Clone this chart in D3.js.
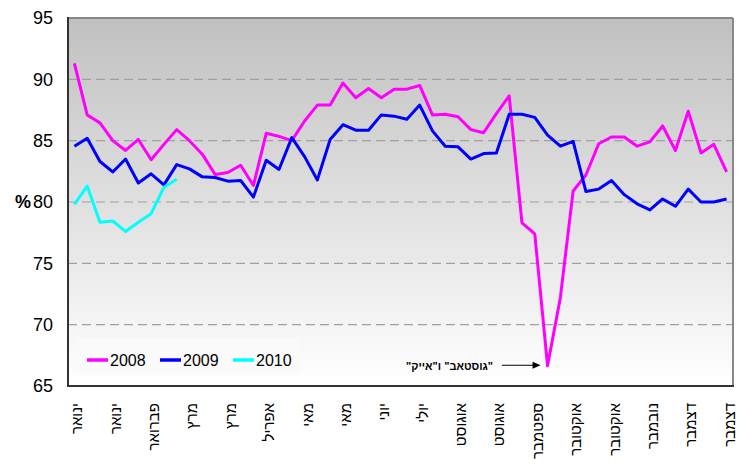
<!DOCTYPE html>
<html><head><meta charset="utf-8">
<script src="https://cdn.jsdelivr.net/npm/d3@7"></script>
<style>body{margin:0;background:#fff}</style>
</head><body>
<svg id="chart" width="737" height="464"></svg>
<script>
const weeks = d3.range(1, 53);
const series2008 = [91.3,87.1,86.45,85.0,84.2,85.1,83.45,84.7,85.9,85.0,83.9,82.25,82.4,83.0,81.35,85.6,85.35,85.0,86.6,87.9,87.9,89.7,88.5,89.25,88.5,89.2,89.2,89.5,87.1,87.15,86.95,85.9,85.65,87.2,88.65,78.3,77.4,66.65,72.2,80.9,82.2,84.75,85.3,85.3,84.55,84.9,86.2,84.2,87.4,84.0,84.7,82.45];
const series2009 = [84.55,85.2,83.3,82.45,83.5,81.55,82.3,81.4,83.05,82.7,82.05,82.0,81.7,81.75,80.4,83.4,82.65,85.25,83.7,81.8,85.1,86.3,85.85,85.85,87.1,87.0,86.75,87.9,85.8,84.55,84.5,83.5,83.95,84.0,87.15,87.15,86.9,85.45,84.55,84.95,80.85,81.05,81.75,80.6,79.85,79.35,80.25,79.65,81.05,80.0,80.0,80.25];
const series2010 = [79.8,81.3,78.35,78.45,77.6,78.35,79.05,81.2,81.85];
const seriesNames = ["2008", "2009", "2010"];
const seriesColors = ["#FF00FF", "#0000FF", "#00FFFF"];
const tickLabels = ["ינואר","ינואר","פברואר","מרץ","מרץ","אפריל","מאי","מאי","יוני","יולי","אוגוסט","אוגוסט","ספטמבר","אוקטובר","אוקטובר","נובמבר","דצמבר","דצמבר"];
const tickStep = 3;
const yTicks = [65, 70, 75, 80, 85, 90, 95];
const yUnit = "%";
const annotationText = '"גוסטאב" ו"אייק"';
const annotationWeek = 38;

const svg = d3.select("#chart");
const L = 68, R = 733, T = 18, B = 386;
const x = d3.scalePoint().domain(weeks).range([L, R]).padding(0.5);
const y = d3.scaleLinear().domain([65, 95]).range([B, T]);
const font = "'Liberation Sans', Arial, sans-serif";

const defs = svg.append("defs");
const grad = defs.append("linearGradient").attr("id", "bg").attr("x1", 0).attr("y1", 0).attr("x2", 0).attr("y2", 1);
grad.append("stop").attr("offset", "0%").attr("stop-color", "#c0c0c0");
grad.append("stop").attr("offset", "100%").attr("stop-color", "#ffffff");

svg.append("rect").attr("x", L).attr("y", T).attr("width", R - L).attr("height", B - T).attr("fill", "url(#bg)");

// gridlines
svg.append("g").selectAll("line").data(yTicks.filter(d => d > 65 && d < 95)).join("line")
  .attr("x1", L).attr("x2", R).attr("y1", d => y(d)).attr("y2", d => y(d))
  .attr("stroke", "#a0a0a0").attr("stroke-width", 1.2).attr("stroke-dasharray", "9,5");

// y axis labels via d3 axis
const yAxis = svg.append("g").attr("transform", `translate(${L},0)`)
  .call(d3.axisLeft(y).tickValues(yTicks).tickSize(0).tickPadding(15));
yAxis.select(".domain").remove();
yAxis.selectAll("text").attr("font-family", font).attr("font-size", 18).attr("fill", "#000");

svg.append("text").attr("x", 31).attr("y", y(80)).attr("dy", "0.35em").attr("text-anchor", "end")
  .attr("font-family", font).attr("font-size", 18).attr("font-weight", "bold").text(yUnit);

// x axis labels
const xAxis = svg.append("g").attr("transform", `translate(0,${B})`)
  .call(d3.axisBottom(x).tickValues(weeks.filter((d, i) => i % tickStep === 0))
    .tickFormat((d, i) => tickLabels[i]).tickSize(0));
xAxis.select(".domain").remove();
xAxis.selectAll("text")
  .attr("font-family", font).attr("font-size", 15).attr("fill", "#000")
  .attr("text-anchor", "end")
  .attr("transform", "rotate(-90)")
  .attr("x", -17).attr("y", 0).attr("dy", "0.5em");

// lines
const line = d3.line().x((d, i) => x(weeks[i])).y(d => y(d));
[series2008, series2009, series2010].forEach((s, k) => {
  svg.append("path").datum(s).attr("d", line).attr("fill", "none")
    .attr("stroke", seriesColors[k]).attr("stroke-width", 3).attr("stroke-linejoin", "round");
});

// border
svg.append("line").attr("x1", L).attr("x2", R).attr("y1", T).attr("y2", T).attr("stroke", "#888").attr("stroke-width", 2);
svg.append("line").attr("x1", R).attr("x2", R).attr("y1", T).attr("y2", B).attr("stroke", "#888").attr("stroke-width", 2);
svg.append("line").attr("x1", L).attr("x2", L).attr("y1", T - 1).attr("y2", B + 1).attr("stroke", "#333").attr("stroke-width", 2);
svg.append("line").attr("x1", L - 1).attr("x2", R + 1).attr("y1", B).attr("y2", B).attr("stroke", "#333").attr("stroke-width", 2);

// legend
const lg = svg.append("g");
lg.append("rect").attr("x", 79).attr("y", 337).attr("width", 220).attr("height", 36).attr("fill", "#fafafa");
const lgX = [87, 160, 233];
seriesNames.forEach((n, k) => {
  lg.append("line").attr("x1", lgX[k]).attr("x2", lgX[k] + 21).attr("y1", 360).attr("y2", 360)
    .attr("stroke", seriesColors[k]).attr("stroke-width", 3.5);
  lg.append("text").attr("x", lgX[k] + 23).attr("y", 366).attr("font-family", font).attr("font-size", 16)
    .attr("fill", "#000").text(n);
});

// annotation
const ax = x(annotationWeek), ay = y(series2008[annotationWeek - 1]);
svg.append("line").attr("x1", 502).attr("x2", ax - 13).attr("y1", ay - 0.5).attr("y2", ay - 0.5)
  .attr("stroke", "#000").attr("stroke-width", 1.2);
svg.append("path").attr("d", `M${ax - 7},${ay - 0.5} l-8,-3.5 l0,7 z`).attr("fill", "#000");
svg.append("text").attr("x", 493).attr("y", ay + 4).attr("text-anchor", "end")
  .attr("font-family", font).attr("font-size", 11).attr("font-weight", "bold")
  .text("\u200F" + annotationText + "\u200F");
</script>
</body></html>
